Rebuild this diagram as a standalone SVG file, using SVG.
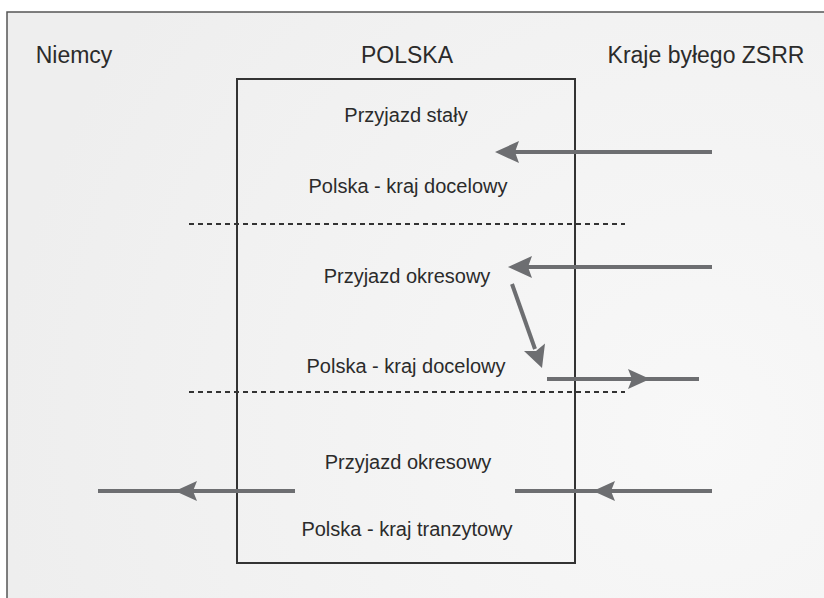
<svg xmlns="http://www.w3.org/2000/svg" width="824" height="598" viewBox="0 0 824 598">
  <defs>
    <radialGradient id="bg" cx="700" cy="430" r="700" gradientUnits="userSpaceOnUse">
      <stop offset="0" stop-color="#f8f8f8"/>
      <stop offset="0.5" stop-color="#f3f3f3"/>
      <stop offset="1" stop-color="#eeeeee"/>
    </radialGradient>
    <style>
      .lbl { font-family: "Liberation Sans", Arial, sans-serif; fill: #2b2b2b; text-anchor: middle; }
      .top { font-size: 23px; }
      .in { font-size: 20px; }
      .arr { stroke: #6d6e71; stroke-width: 4; fill: none; }
      .dot { stroke: #333; stroke-width: 2; stroke-dasharray: 5 4; fill: none; }
      .ah { fill: #6d6e71; }
    </style>
  </defs>
  <rect x="0" y="0" width="824" height="598" fill="#ffffff"/>
  <rect x="7" y="12" width="817" height="586" fill="url(#bg)"/>
  <path d="M7,598 L7,12 L824,12" fill="none" stroke="#555" stroke-width="1.5"/>

  <g id="header-niemcy"><text class="lbl top" x="74" y="63">Niemcy</text></g>
  <g id="header-polska"><text class="lbl top" x="407" y="63">POLSKA</text></g>
  <g id="header-zsrr"><text class="lbl top" x="706" y="63">Kraje byłego ZSRR</text></g>

  <g id="polska-box">
    <rect x="237" y="79" width="338" height="484" fill="none" stroke="#333" stroke-width="2"/>
  </g>

  <g id="separators">
    <line class="dot" x1="189" y1="224" x2="625" y2="224"/>
    <line class="dot" x1="189" y1="392" x2="625" y2="392"/>
  </g>

  <g id="sec1">
    <text class="lbl in" x="406" y="122">Przyjazd stały</text>
    <text class="lbl in" x="408" y="193">Polska - kraj docelowy</text>
  </g>
  <g id="sec2">
    <text class="lbl in" x="407" y="283">Przyjazd okresowy</text>
    <text class="lbl in" x="406" y="373">Polska - kraj docelowy</text>
  </g>
  <g id="sec3">
    <text class="lbl in" x="408" y="469">Przyjazd okresowy</text>
    <text class="lbl in" x="407" y="536">Polska - kraj tranzytowy</text>
  </g>

  <g id="connectors">
    <line class="arr" x1="712" y1="152" x2="514" y2="152"/>
    <path class="ah" d="M495,152 L519,141 L515,152 L519,163 Z"/>

    <line class="arr" x1="712" y1="267" x2="526" y2="267"/>
    <path class="ah" d="M508,267 L532,256 L528,267 L532,278 Z"/>

    <line class="arr" x1="512" y1="284" x2="535" y2="349"/>
    <path class="ah" d="M542,368 L524,351 L536,351 L545,343.5 Z"/>

    <line class="arr" x1="547" y1="379" x2="699" y2="379"/>
    <path class="ah" d="M650,379 L628,369 L632,379 L628,389 Z"/>

    <line class="arr" x1="98" y1="491" x2="295" y2="491"/>
    <path class="ah" d="M175,491 L197,481 L193,491 L197,501 Z"/>

    <line class="arr" x1="515" y1="491" x2="712" y2="491"/>
    <path class="ah" d="M593,491 L615,481 L611,491 L615,501 Z"/>
  </g>
</svg>
